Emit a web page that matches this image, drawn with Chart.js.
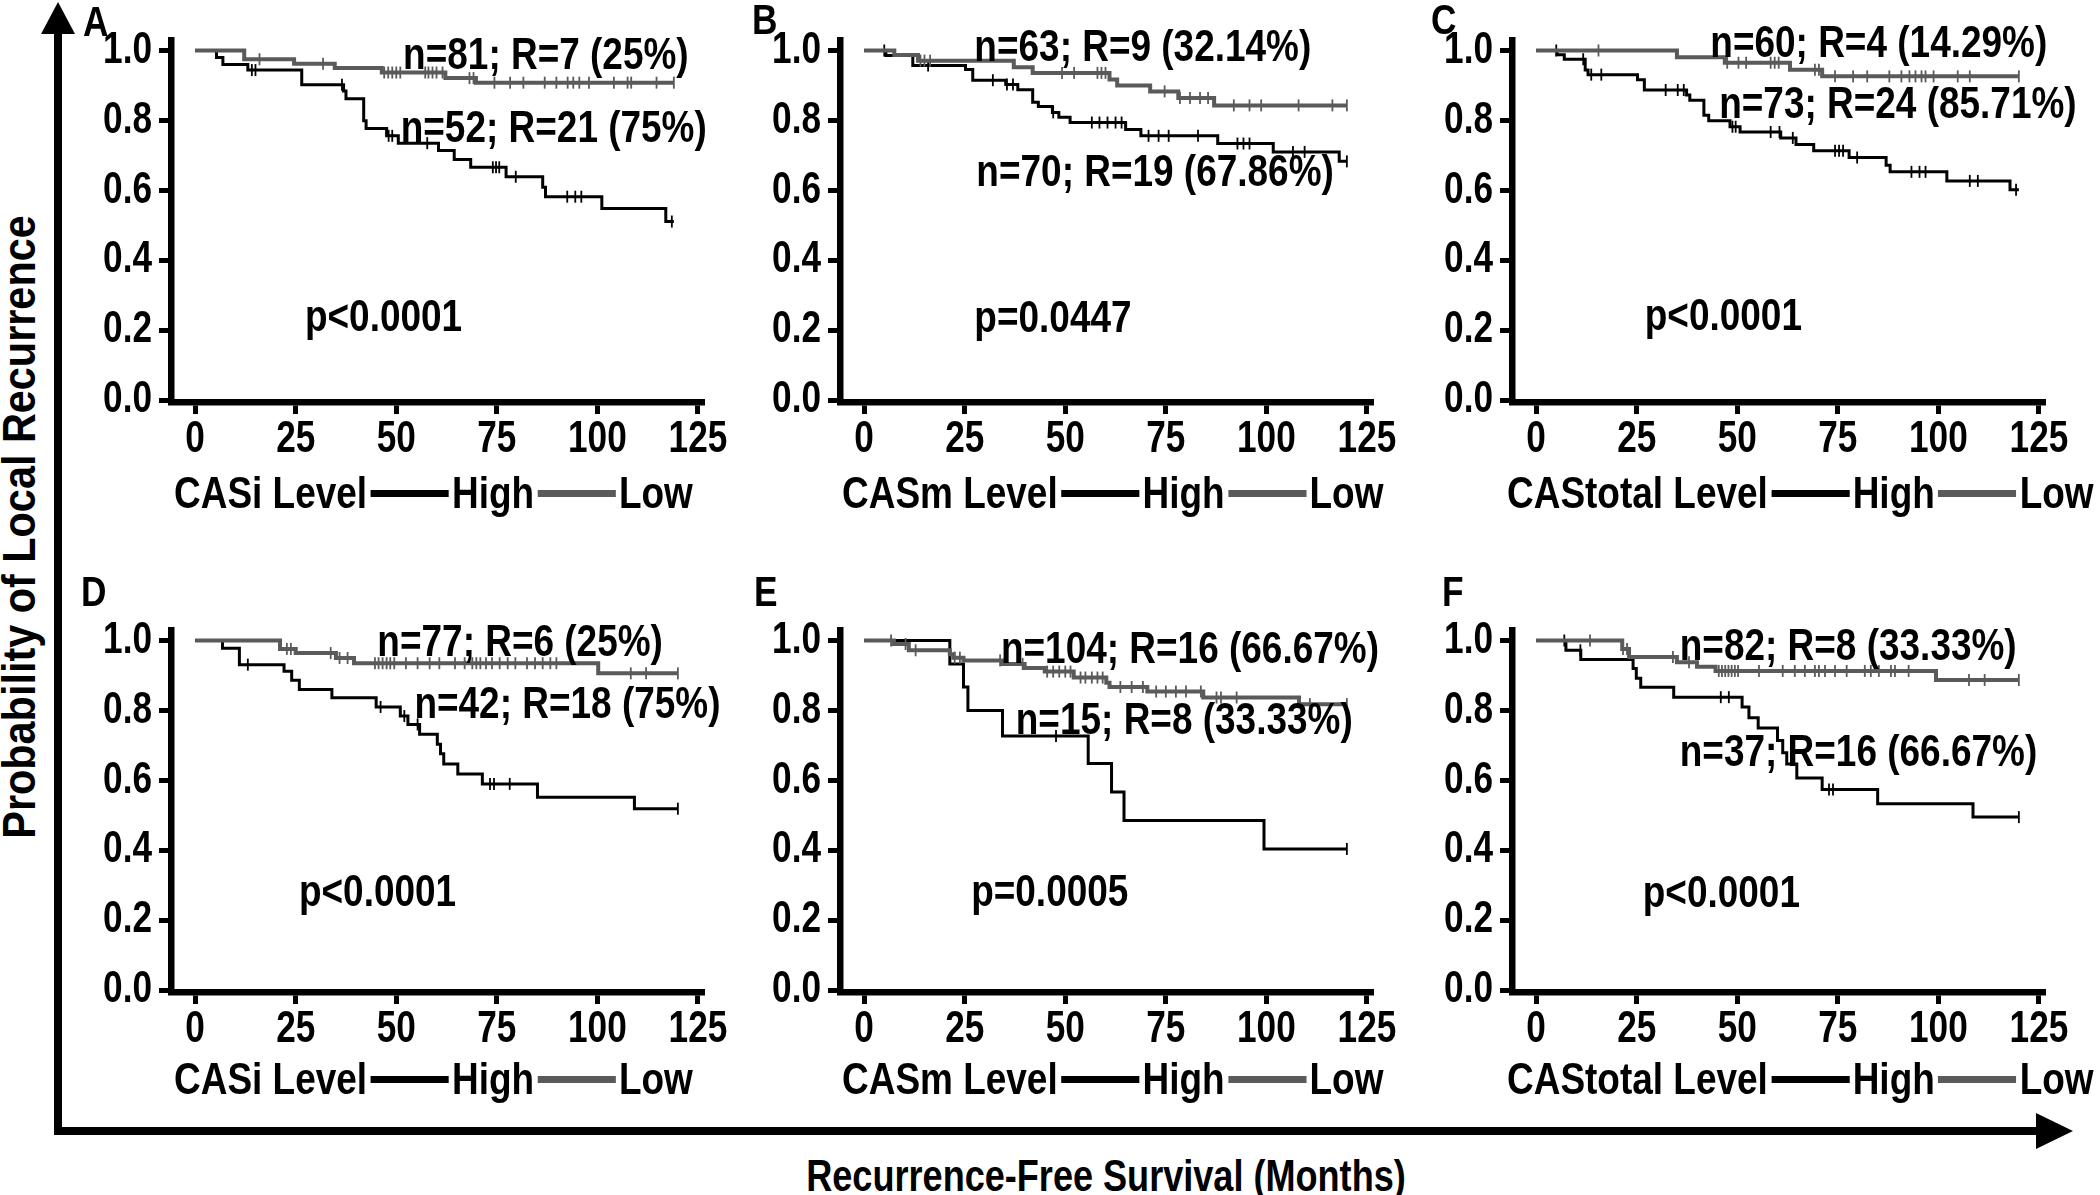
<!DOCTYPE html>
<html>
<head>
<meta charset="utf-8">
<script src="https://cdn.jsdelivr.net/npm/chart.js@4.4.1/dist/chart.umd.min.js"></script>
<style>
  body { margin: 0; width: 2100px; height: 1195px; background: #fff; position: relative; overflow: hidden;
         font-family: "Liberation Sans", Arial, sans-serif; font-weight: bold; color: #000; }
  canvas { position: absolute; }
  .legend { position: absolute; display: flex; align-items: center; height: 50px; font-size: 44px; white-space: nowrap;
            transform: scaleX(0.84); transform-origin: 0 50%; }
  .legend .ln { display: inline-block; width: 93px; height: 7px; margin: 0 4px; }
  .letter { position: absolute; font-size: 42px; line-height: 42px; transform: scaleX(0.84); transform-origin: 0 0; }
  .shaft { position: absolute; background: #000; }
  .title { position: absolute; white-space: nowrap; }
</style>
</head>
<body>
<div class="shaft" style="left:54px;top:30px;width:8px;height:1105px"></div>
<div style="position:absolute;left:41px;top:2px;width:0;height:0;border-left:17px solid transparent;border-right:17px solid transparent;border-bottom:32px solid #000"></div>
<div class="shaft" style="left:54px;top:1127px;width:1990px;height:8px"></div>
<div style="position:absolute;left:2036px;top:1113px;width:0;height:0;border-top:18px solid transparent;border-bottom:18px solid transparent;border-left:37px solid #000"></div>
<div class="title" style="left:1106px;top:1151px;font-size:44px;transform:translateX(-50%) scaleX(0.82)">Recurrence-Free Survival (Months)</div>
<div class="title" style="left:19px;top:527px;font-size:46px;transform:translate(-50%,-50%) rotate(-90deg) scaleX(0.9)">Probability of Local Recurrence</div>

<script>
const monthTicks = [0, 25, 50, 75, 100, 125];
const probTicks = [0, 0.2, 0.4, 0.6, 0.8, 1.0];

// A: CASi (cohort 1)
const aHighTime = [0, 5.3, 6.9, 13.1, 26.5, 36.9, 37.5, 41.9, 42.5, 47.6, 50.5, 60.5, 64.4, 68.5, 77.3, 86.4, 87.1, 101.1, 117.0, 119];
const aHighSurv = [1, 0.98, 0.96, 0.944, 0.902, 0.884, 0.862, 0.799, 0.777, 0.756, 0.735, 0.714, 0.688, 0.666, 0.639, 0.609, 0.582, 0.548, 0.511, 0.511];
const aHighCens = [14.1, 15.0, 36.5, 48.1, 49, 57.7, 74, 74.8, 75.6, 79.7, 92.5, 94.5, 96, 118.5];
const aLowTime = [0, 12.2, 24.6, 34.7, 46.4, 62.2, 69.8, 119];
const aLowSurv = [1, 0.975, 0.962, 0.95, 0.937, 0.921, 0.908, 0.908];
const aLowCens = [16, 31.8, 47, 48, 49, 50, 51, 57.2, 58, 59, 60, 61.5, 68.2, 69.2, 74.4, 78.3, 81.6, 86.9, 89.8, 92.6, 94, 95.5, 97.9, 104.1, 107.5, 108.4, 114.7, 119];

// B: CASm (cohort 1)
const bHighTime = [0, 5.4, 12.1, 25.2, 27.0, 35.2, 38.2, 41.9, 43.3, 46.8, 48.4, 51.2, 65.0, 68.8, 87.9, 101.7, 118.1, 120];
const bHighSurv = [1, 0.986, 0.957, 0.946, 0.915, 0.903, 0.888, 0.852, 0.84, 0.823, 0.809, 0.794, 0.774, 0.756, 0.734, 0.71, 0.683, 0.683];
const bHighCens = [5, 15.9, 32, 35.5, 37, 47, 56.6, 58.5, 60.5, 62.5, 64, 70.7, 73.2, 75.7, 83, 92.8, 94.3, 95.8, 106.6, 109.5, 120];
const bLowTime = [0, 7.5, 13.4, 37.2, 41.9, 61.0, 62.9, 71.1, 78.1, 87.0, 120];
const bLowSurv = [1, 0.987, 0.971, 0.952, 0.936, 0.917, 0.9, 0.883, 0.864, 0.843, 0.843];
const bLowCens = [14, 15, 16.4, 49.2, 52.2, 58, 59, 60, 74.7, 78.5, 81, 83.5, 85.5, 91.9, 95.8, 98.7, 108, 116.4, 120];

// C: CAStotal (cohort 1)
const cHighTime = [0, 5.2, 7.0, 12.2, 12.9, 25.2, 26.9, 37.4, 38.2, 41.7, 42.9, 48.2, 50.7, 60.8, 64.6, 69.0, 77.8, 87.0, 88.0, 102.1, 117.8, 120];
const cHighSurv = [1, 0.988, 0.975, 0.944, 0.931, 0.916, 0.887, 0.873, 0.858, 0.815, 0.799, 0.782, 0.767, 0.75, 0.731, 0.713, 0.694, 0.672, 0.653, 0.627, 0.602, 0.602];
const cHighCens = [5, 11.7, 13.7, 16.2, 32.2, 35.2, 36.7, 48.8, 49.6, 58.3, 60.5, 63.8, 74.3, 75.3, 76.3, 79.8, 93.3, 95.3, 96.8, 107.8, 109.8, 119.3];
const cLowTime = [0, 35.0, 46.9, 63.1, 71.1, 120];
const cLowSurv = [1, 0.981, 0.965, 0.945, 0.926, 0.926];
const cLowCens = [15.5, 47.5, 50.3, 52.2, 58.3, 59.3, 60.3, 69.3, 70.3, 74.3, 78.8, 82.3, 87.8, 90.8, 92.8, 94.3, 95.8, 96.8, 98.8, 104.8, 107.8, 120];

// D: CASi (cohort 2)
const dHighTime = [0, 6.8, 11.0, 22.1, 24.0, 25.9, 34.0, 45.0, 51.0, 52.9, 55.8, 60.2, 61.0, 61.8, 65.3, 71.4, 85.1, 109.2, 120];
const dHighSurv = [1, 0.978, 0.931, 0.912, 0.886, 0.86, 0.836, 0.81, 0.784, 0.76, 0.732, 0.703, 0.676, 0.647, 0.618, 0.59, 0.552, 0.519, 0.519];
const dHighCens = [13.1, 46.1, 52, 55.3, 73.3, 74.3, 78.2, 120];
const dLowTime = [0, 21.1, 25.0, 35.0, 39.5, 100.2, 120];
const dLowSurv = [1, 0.976, 0.964, 0.95, 0.935, 0.906, 0.906];
const dLowCens = [22.8, 23.8, 33.7, 35.9, 37.9, 44.7, 45.6, 46.6, 47.6, 48.5, 49.5, 52.4, 55.3, 58.3, 60.7, 64.6, 67, 68.9, 69.9, 70.9, 72.3, 73.8, 75.7, 77.7, 79.6, 82.5, 84.5, 86.4, 88.3, 89.8, 108.3, 112.1, 120];

// E: CASm (cohort 2)
const eHighTime = [0, 21.3, 24.7, 25.8, 34.4, 55.7, 61.5, 64.6, 99.4, 120];
const eHighSurv = [1, 0.933, 0.867, 0.8, 0.727, 0.648, 0.567, 0.485, 0.404, 0.404];
const eHighCens = [47.7, 120];
const eLowTime = [0, 7.4, 11.1, 21.3, 22.2, 24.7, 34.4, 39.9, 44.9, 52.1, 60.2, 61.0, 70.4, 84.3, 108.1, 120];
const eLowSurv = [1, 0.99, 0.972, 0.961, 0.951, 0.943, 0.933, 0.921, 0.911, 0.894, 0.879, 0.867, 0.854, 0.837, 0.818, 0.818];
const eLowCens = [6.7, 10.3, 12.8, 22.5, 23.8, 33.8, 39.4, 45.5, 47, 48.5, 50, 51.3, 53.8, 55, 56.6, 58, 59.3, 63.7, 66.5, 69.3, 72.6, 75, 77.5, 80, 83.7, 87.6, 88.7, 92.6, 110.8, 120];

// F: CAStotal (cohort 2)
const fHighTime = [0, 7.4, 11.1, 24.1, 24.9, 26.0, 34.2, 51.2, 52.9, 55.2, 60.0, 61.3, 62.3, 64.8, 71.1, 84.9, 108.6, 120];
const fHighSurv = [1, 0.972, 0.946, 0.92, 0.892, 0.866, 0.838, 0.81, 0.779, 0.75, 0.714, 0.679, 0.647, 0.607, 0.574, 0.533, 0.495, 0.495];
const fHighCens = [7, 11, 45.9, 47.9, 72.8, 73.8, 120];
const fLowTime = [0, 21.4, 23.1, 35.0, 40.0, 44.6, 99.4, 120];
const fLowSurv = [1, 0.976, 0.953, 0.938, 0.925, 0.913, 0.887, 0.887];
const fLowCens = [13.4, 21.6, 22.6, 34, 38, 45.4, 46.2, 47, 47.8, 48.6, 49.4, 50.2, 55.4, 61.3, 64.3, 66.8, 69.3, 70.3, 71.8, 74.3, 77.2, 81.7, 83.2, 85.2, 88.2, 89.2, 92.6, 107.6, 111.5, 120];

const panelLetters = ['A', 'B', 'C', 'D', 'E', 'F'];
const levelNames = ['CASi', 'CASm', 'CAStotal', 'CASi', 'CASm', 'CAStotal'];
const lowNotes = ['n=81; R=7 (25%)', 'n=63; R=9 (32.14%)', 'n=60; R=4 (14.29%)', 'n=77; R=6 (25%)', 'n=104; R=16 (66.67%)', 'n=82; R=8 (33.33%)'];
const highNotes = ['n=52; R=21 (75%)', 'n=70; R=19 (67.86%)', 'n=73; R=24 (85.71%)', 'n=42; R=18 (75%)', 'n=15; R=8 (33.33%)', 'n=37; R=16 (66.67%)'];
const pValues = ['p<0.0001', 'p=0.0447', 'p<0.0001', 'p<0.0001', 'p=0.0005', 'p<0.0001'];

const curves = [
  [aHighTime, aHighSurv, aHighCens, aLowTime, aLowSurv, aLowCens],
  [bHighTime, bHighSurv, bHighCens, bLowTime, bLowSurv, bLowCens],
  [cHighTime, cHighSurv, cHighCens, cLowTime, cLowSurv, cLowCens],
  [dHighTime, dHighSurv, dHighCens, dLowTime, dLowSurv, dLowCens],
  [eHighTime, eHighSurv, eHighCens, eLowTime, eLowSurv, eLowCens],
  [fHighTime, fHighSurv, fHighCens, fLowTime, fLowSurv, fLowCens]
];

// layout: where the notes sit, in axis units [month, probability]
const lowNotePos = [[51.7, 0.983], [27.4, 1.005], [43.3, 1.015], [45.3, 0.99], [34, 0.97], [35.7, 0.98]];
const highNotePos = [[51.1, 0.772], [27.9, 0.647], [45.5, 0.843], [54.5, 0.814], [37.7, 0.768], [35.7, 0.676]];
const pNotePos = [[27.3, 0.233], [27.4, 0.23], [27, 0.235], [25.8, 0.275], [26.6, 0.276], [26.5, 0.274]];

const colLeft = [171, 840, 1512];
const rowTop = [40, 630];
const letterPos = [[83, 1], [752, -1], [1431, -1], [81, 571], [754, 571], [1442, 571]];
const legendLeft = [174, 842, 1507];
const legendTop = [468, 1054];
const AREA_W = 531, AREA_H = 362, Y_AXIS_W = 110, X_AXIS_H = 75, PAD_TOP = 24, PAD_RIGHT = 45;
const GRAY = '#5a5a5a';
const FONT = '"Liberation Sans", Arial, sans-serif';
const TEXT_FONT = 'bold 44px ' + FONT;
const NOTE_SX = 0.84, TICK_SX = 0.8;

function toPoints(times, surv) {
  return times.map((t, i) => ({x: t, y: surv[i]}));
}

function survAt(times, surv, t) {
  let s = surv[0];
  for (let i = 0; i < times.length; i++) {
    if (times[i] <= t) s = surv[i];
  }
  return s;
}

function censorPoints(cens, times, surv) {
  return cens.map(t => ({x: t, y: survAt(times, surv, t)}));
}

// the figure uses a condensed bold face, so squeeze text horizontally
function squeezed(ctx, text, x, y, sx) {
  ctx.save();
  ctx.translate(x, y);
  ctx.scale(sx, 1);
  ctx.fillText(text, 0, 0);
  ctx.restore();
}

function drawPanel(i) {
  const [hT, hS, hC, lT, lS, lC] = curves[i];
  const col = i % 3, row = Math.floor(i / 3);
  const canvas = document.createElement('canvas');
  canvas.width = Y_AXIS_W + AREA_W + PAD_RIGHT;
  canvas.height = PAD_TOP + AREA_H + X_AXIS_H;
  canvas.style.left = (colLeft[col] - Y_AXIS_W) + 'px';
  canvas.style.top = (rowTop[row] - PAD_TOP) + 'px';
  document.body.appendChild(canvas);

  const notes = [
    [lowNotes[i], lowNotePos[i]],
    [highNotes[i], highNotePos[i]],
    [pValues[i], pNotePos[i]]
  ];
  const textPlugin = {
    id: 'texts' + i,
    afterDraw(chart) {
      const {ctx, chartArea, scales: {x, y}} = chart;
      ctx.save();
      ctx.font = TEXT_FONT;
      ctx.fillStyle = '#000';
      ctx.textBaseline = 'middle';
      ctx.textAlign = 'center';
      monthTicks.forEach(v => squeezed(ctx, String(v), x.getPixelForValue(v), chartArea.bottom + 38, TICK_SX));
      ctx.textAlign = 'right';
      probTicks.forEach(v => squeezed(ctx, v.toFixed(1), chartArea.left - 19, y.getPixelForValue(v), TICK_SX));
      ctx.textAlign = 'left';
      notes.forEach(([text, pos]) => squeezed(ctx, text, x.getPixelForValue(pos[0]), y.getPixelForValue(pos[1]), NOTE_SX));
      ctx.restore();
    }
  };

  const censorStyle = {showLine: false, pointStyle: 'line', rotation: 90, pointRadius: 6, pointBorderWidth: 1.8};
  new Chart(canvas, {
    type: 'line',
    data: {
      datasets: [
        {data: toPoints(lT, lS), borderColor: GRAY, borderWidth: 4, stepped: true, pointRadius: 0},
        {data: censorPoints(lC, lT, lS), borderColor: GRAY, ...censorStyle},
        {data: toPoints(hT, hS), borderColor: '#000', borderWidth: 3, stepped: true, pointRadius: 0},
        {data: censorPoints(hC, hT, hS), borderColor: '#000', ...censorStyle}
      ]
    },
    options: {
      responsive: false,
      animation: false,
      events: [],
      layout: {padding: {top: PAD_TOP, right: PAD_RIGHT, left: 0, bottom: 0}},
      plugins: {legend: {display: false}, tooltip: {enabled: false}},
      scales: {
        x: {
          type: 'linear', min: -6, max: 126,
          afterFit: s => { s.height = X_AXIS_H; },
          afterBuildTicks: s => { s.ticks = monthTicks.map(v => ({value: v})); },
          ticks: {display: false},
          grid: {drawOnChartArea: false, color: '#000', lineWidth: 5, tickLength: 12},
          border: {display: true, color: '#000', width: 6.5}
        },
        y: {
          type: 'linear', min: -0.005, max: 1.03,
          afterFit: s => { s.width = Y_AXIS_W; },
          afterBuildTicks: s => { s.ticks = probTicks.map(v => ({value: v})); },
          ticks: {display: false},
          grid: {drawOnChartArea: false, color: '#000', lineWidth: 5, tickLength: 12},
          border: {display: true, color: '#000', width: 6.5}
        }
      }
    },
    plugins: [textPlugin]
  });

  const letter = document.createElement('div');
  letter.className = 'letter';
  letter.textContent = panelLetters[i];
  letter.style.left = letterPos[i][0] + 'px';
  letter.style.top = letterPos[i][1] + 'px';
  document.body.appendChild(letter);

  const legend = document.createElement('div');
  legend.className = 'legend';
  legend.style.left = legendLeft[col] + 'px';
  legend.style.top = legendTop[row] + 'px';
  legend.innerHTML = levelNames[i] + ' Level<span class="ln" style="background:#000"></span>High' +
    '<span class="ln" style="background:' + GRAY + '"></span>Low';
  document.body.appendChild(legend);
}

for (let i = 0; i < 6; i++) drawPanel(i);
</script>
</body>
</html>
